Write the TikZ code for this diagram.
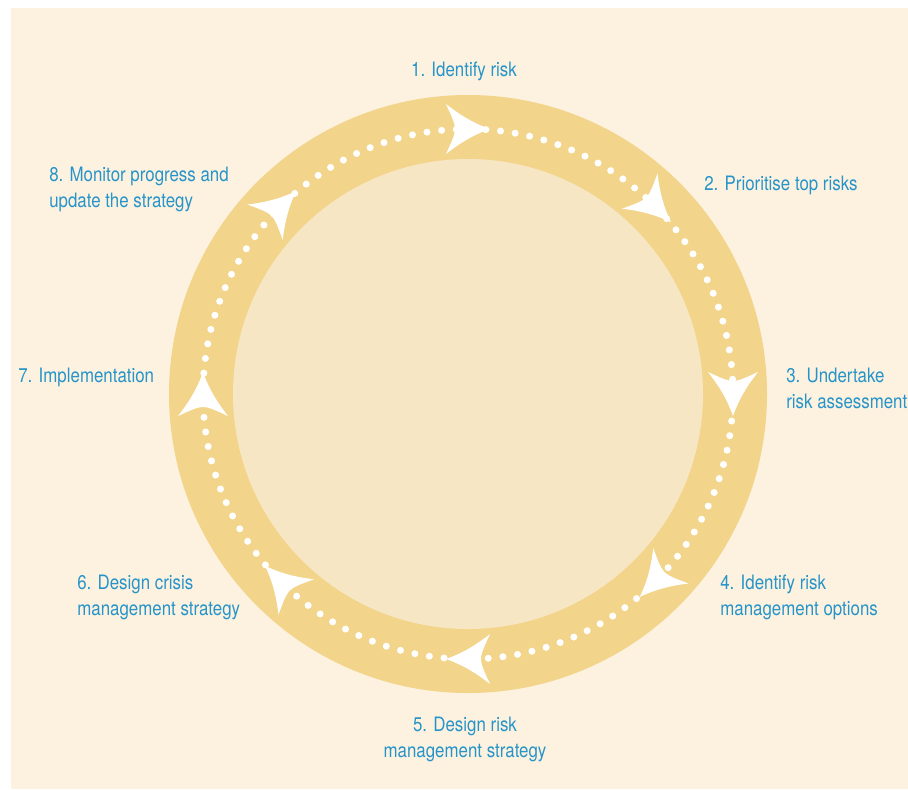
\documentclass[tikz,border=0pt]{standalone}
\usepackage{fontspec}
\setmainfont[FakeStretch=0.85]{TeX Gyre Heros}
\usepackage{tikz}
\usetikzlibrary{positioning}
\definecolor{paper}{RGB}{253,242,224}
\definecolor{ring}{RGB}{242,212,138}
\definecolor{core}{RGB}{247,230,196}
\definecolor{labelblue}{RGB}{38,148,200}
\tikzstyle{stage} = [inner sep=0pt, text=labelblue, align=left, font=\fontsize{11.3}{14.3}\selectfont]
\tikzstyle{dots} = [white, line width=4, line cap=round, dash pattern=on 0pt off 8.4]
\begin{document}
\begin{tikzpicture}[x=0.02cm, y=0.02cm]
\useasboundingbox (-468,-395) rectangle (440,394);
%----------------------------------------------------------------------------
% Background and circles
\fill[paper] (-457,-395) rectangle (440,386);
\fill[ring] (0,0) circle (299);
\fill[core] (0,0) circle (235);
\draw[dots] (0,0) circle (265);

%----------------------------------------------------------------------------
% Arrow heads
\foreach \a in {90,45,...,-225}{
  \begin{scope}[shift={(\a:265)}, rotate=\a-90]
    \fill[white] (22,0) .. controls (5,6) and (-8,14) .. (-22,25)
      .. controls (-17,14) and (-13,6) .. (-13,0)
      .. controls (-13,-6) and (-17,-14) .. (-22,-25)
      .. controls (-8,-14) and (5,-6) .. (22,0) -- cycle;
  \end{scope}
}

%----------------------------------------------------------------------------
% Labels
\node (identify) [stage, anchor=base] at (-4,318) {1. Identify risk};
\node (prioritise) [stage, anchor=base west] at (236,204) {2. Prioritise top risks};
\node (assess) [stage, anchor=base west] at (318,-14) {3. Undertake\\risk assessment};
\node (options) [stage, anchor=base west] at (252,-221) {4. Identify risk\\management options};
\node (riskstrategy) [stage, anchor=base, align=center] at (-3,-363) {5. Design risk\\management strategy};
\node (crisis) [stage, anchor=base west] at (-391,-221) {6. Design crisis\\management strategy};
\node (implement) [stage, anchor=base west] at (-450,12) {7. Implementation};
\node (monitor) [stage, anchor=base west] at (-419,187) {8. Monitor progress and\\update the strategy};

\end{tikzpicture}
\end{document}
